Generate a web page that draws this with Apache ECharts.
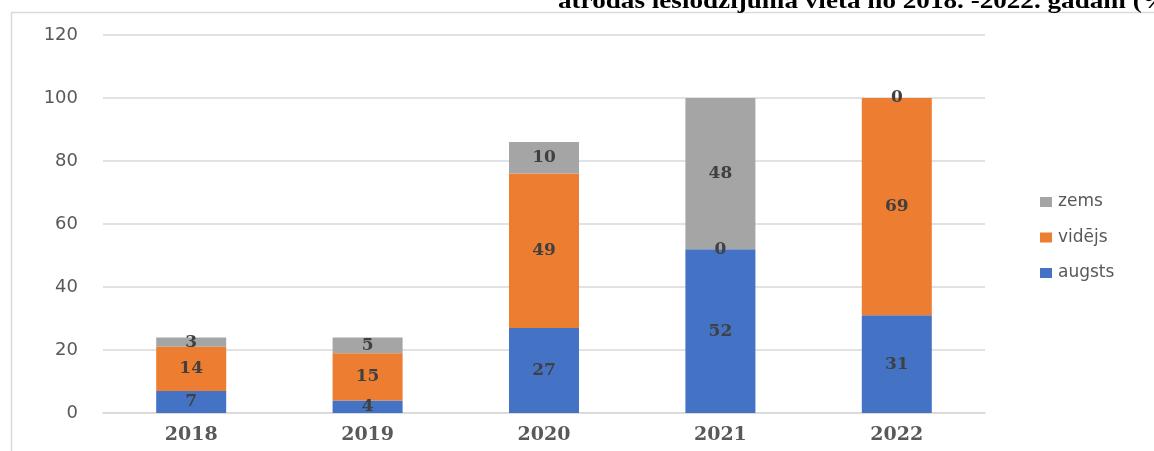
<!DOCTYPE html>
<html><head><meta charset="utf-8">
<script src="https://cdn.jsdelivr.net/npm/echarts@6/dist/echarts.min.js"></script>
<style>html,body{margin:0;padding:0;background:#fff}#c{width:1154px;height:451px}</style>
</head><body><div id="c"></div>
<script>
const categories = ['2018','2019','2020','2021','2022'];
const augsts = [7, 4, 27, 52, 31];
const videjs = [14, 15, 49, 0, 69];
const zems = [3, 5, 10, 48, 0];
const yTicks = {min: 0, max: 120, interval: 20};
const titleText = 'atrodas ieslodzījuma vietā no 2018. -2022. gadam (%)';

const chart = echarts.init(document.getElementById('c'), null, {renderer: 'canvas'});
const lbl = {show: true, position: 'inside', color: '#404040', fontFamily: 'DejaVu Serif', fontWeight: 'bold', fontSize: 17};
function ser(name, data, color) {
  return {name, type: 'bar', stack: 's', data, barWidth: 70,
    itemStyle: {color}, label: lbl, emphasis: {disabled: true}};
}
chart.setOption({
  animation: false,
  graphic: [
    {type: 'rect', shape: {x: 11.5, y: 12.5, width: 1300, height: 600}, style: {fill: 'none', stroke: '#d9d9d9', lineWidth: 1.5}, z: -1},
    {type: 'text', x: 558, y: -9, scaleX: 1.18, style: {text: titleText, font: 'bold 23px "Liberation Serif"', fill: '#000'}}
  ],
  grid: {left: 103, right: 169, top: 35, bottom: 38},
  legend: {
    orient: 'vertical', left: 1035, top: 188, itemGap: 17.5, itemWidth: 12, itemHeight: 10,
    icon: 'rect', data: ['zems', 'vidējs', 'augsts'],
    textStyle: {color: '#595959', fontSize: 17, lineHeight: 18, fontFamily: 'DejaVu Sans', padding: [0,0,0,1]}
  },
  xAxis: {
    type: 'category', data: categories,
    axisLine: {lineStyle: {color: '#d9d9d9', width: 1.5}}, axisTick: {show: false},
    axisLabel: {color: '#595959', fontFamily: 'DejaVu Serif', fontWeight: 'bold', fontSize: 19, margin: 13}
  },
  yAxis: {
    type: 'value', min: yTicks.min, max: yTicks.max, interval: yTicks.interval,
    axisLine: {show: false}, axisTick: {show: false},
    splitLine: {lineStyle: {color: '#d9d9d9', width: 1.5}},
    axisLabel: {color: '#595959', fontFamily: 'DejaVu Sans', fontSize: 18, margin: 25}
  },
  series: [
    ser('augsts', augsts, '#4472C4'),
    ser('vidējs', videjs, '#ED7D31'),
    ser('zems', zems, '#A5A5A5')
  ]
});
</script></body></html>
